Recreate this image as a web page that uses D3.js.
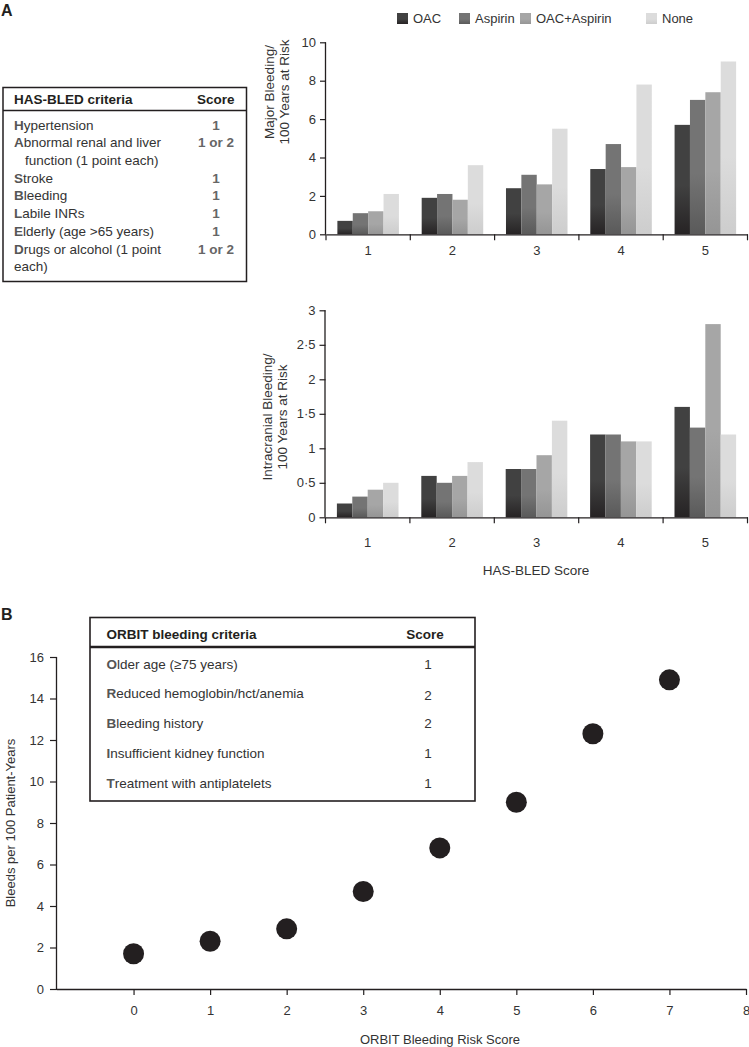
<!DOCTYPE html>
<html><head><meta charset="utf-8">
<script src="https://cdn.jsdelivr.net/npm/d3@7"></script>
<style>
html,body{margin:0;padding:0;background:#fff;}
svg{display:block;font-family:"Liberation Sans",Arial,Helvetica,sans-serif;}
</style></head>
<body><svg id="chart" width="749" height="1047"></svg>
<script>
// ---------- DATA ----------
const hasBledScores = ["1","2","3","4","5"];
const seriesNames = ["OAC","Aspirin","OAC+Aspirin","None"];
const majorOAC = [0.7,1.9,2.4,3.4,5.7];
const majorAspirin = [1.1,2.1,3.1,4.7,7.0];
const majorOACAspirin = [1.2,1.8,2.6,3.5,7.4];
const majorNone = [2.1,3.6,5.5,7.8,9.0];
const icbOAC = [0.2,0.6,0.7,1.2,1.6];
const icbAspirin = [0.3,0.5,0.7,1.2,1.3];
const icbOACAspirin = [0.4,0.6,0.9,1.1,2.8];
const icbNone = [0.5,0.8,1.4,1.1,1.2];
const majorTicks = [0,2,4,6,8,10];
const icbTicks = [0,0.5,1,1.5,2,2.5,3];
const hasBledCriteria = [
  ["Hypertension","1"],
  ["Abnormal renal and liver","1 or 2"],
  ["  function (1 point each)",""],
  ["Stroke","1"],
  ["Bleeding","1"],
  ["Labile INRs","1"],
  ["Elderly (age >65 years)","1"],
  ["Drugs or alcohol (1 point","1 or 2"],
  ["each)",""]
];
const orbitCriteria = [
  ["Older age (\u226575 years)","1"],
  ["Reduced hemoglobin/hct/anemia","2"],
  ["Bleeding history","2"],
  ["Insufficient kidney function","1"],
  ["Treatment with antiplatelets","1"]
];
const orbitScores = [0,1,2,3,4,5,6,7];
const orbitRates = [1.7,2.3,2.9,4.7,6.8,9.0,12.3,14.9];
const orbitXTicks = [0,1,2,3,4,5,6,7,8];
const orbitYTicks = [0,2,4,6,8,10,12,14,16];

// ---------- STYLE ----------
const svg = d3.select("#chart");
const ink = "#231f20";
const textCol = "#333";
const colTop = ["#414141","#747474","#a6a6a6","#dcdcdc"];
const colBot = ["#262324","#5a5a5a","#959595","#cdcdcd"];

const defs = svg.append("defs");
seriesNames.forEach((s,i)=>{
  const g = defs.append("linearGradient").attr("id","grad"+i)
    .attr("x1",0).attr("y1",0).attr("x2",0).attr("y2",1);
  g.append("stop").attr("offset","0%").attr("stop-color",colTop[i]);
  g.append("stop").attr("offset","55%").attr("stop-color",colTop[i]);
  g.append("stop").attr("offset","100%").attr("stop-color",colBot[i]);
});

// Panel letters
svg.append("text").attr("x",1).attr("y",16).attr("font-size",16).attr("font-weight","bold").attr("fill",ink).text("A");
svg.append("text").attr("x",1).attr("y",620).attr("font-size",16).attr("font-weight","bold").attr("fill",ink).text("B");

// Legend
const legendX = [397,459,520,646];
const lg = svg.append("g").attr("class","legend");
seriesNames.forEach((s,i)=>{
  lg.append("rect").attr("x",legendX[i]).attr("y",13).attr("width",11).attr("height",11).attr("fill",`url(#grad${i})`);
  lg.append("text").attr("x",legendX[i]+16).attr("y",23).attr("font-size",13).attr("fill",textCol).text(s);
});

// ---------- BAR CHART FUNCTION ----------
function barChart(opts){
  const {series, ticks, yDomain, yRange, xRange, fmt, labelOffset, titleLines, titleX, titleY, lineGap} = opts;
  const g = svg.append("g");
  const x0 = d3.scaleBand().domain(hasBledScores).range(xRange).padding(0);
  const bw = x0.bandwidth();
  const x1 = d3.scaleBand().domain(seriesNames).range([bw*0.135, bw*0.865]).padding(0);
  const y = d3.scaleLinear().domain(yDomain).range(yRange);
  const rows = hasBledScores.map((c,ci)=>({cat:c, vals: seriesNames.map((s,si)=>({s, si, v: series[si][ci]}))}));
  const grp = g.selectAll("g.cat").data(rows).join("g").attr("transform",d=>`translate(${x0(d.cat)},0)`);
  grp.selectAll("rect").data(d=>d.vals).join("rect")
    .attr("x",d=>x1(d.s)).attr("width",x1.bandwidth())
    .attr("y",d=>y(d.v)).attr("height",d=>y(0)-y(d.v))
    .attr("fill",d=>`url(#grad${d.si})`);
  // y axis
  const ya = g.append("g").attr("transform",`translate(${xRange[0]},0)`)
    .call(d3.axisLeft(y).tickValues(ticks).tickSize(6).tickPadding(4).tickFormat(fmt));
  ya.select(".domain").attr("stroke",ink).attr("stroke-width",1.3).attr("d",`M-0.5,${yRange[1]}V${yRange[0]}`);
  ya.selectAll(".tick line").attr("stroke",ink).attr("stroke-width",1.2);
  ya.selectAll(".tick text").attr("font-size",13).attr("fill",textCol).attr("font-family","Liberation Sans, Arial, sans-serif");
  // x axis: labels
  const xa = g.append("g").attr("transform",`translate(0,${yRange[0]})`)
    .call(d3.axisBottom(x0).tickSize(0).tickPadding(labelOffset));
  xa.select(".domain").attr("stroke",ink).attr("stroke-width",1.3);
  xa.selectAll(".tick text").attr("font-size",13).attr("fill",textCol).attr("font-family","Liberation Sans, Arial, sans-serif");
  // boundary ticks
  const bounds = hasBledScores.map(c=>x0(c)).concat([xRange[1]]);
  g.append("g").selectAll("line").data(bounds).join("line")
    .attr("x1",d=>d).attr("x2",d=>d).attr("y1",yRange[0]).attr("y2",yRange[0]+6)
    .attr("stroke",ink).attr("stroke-width",1.2);
  // title
  const t = g.append("text").attr("transform",`translate(${titleX},${titleY}) rotate(-90)`)
    .attr("text-anchor","middle").attr("font-size",13.5).attr("fill",textCol);
  titleLines.forEach((l,i)=>t.append("tspan").attr("x",0).attr("dy",i===0?0:lineGap).text(l));
  return {x0,y};
}

const dotFmt = d => String(d).replace(".","\u00B7");

barChart({
  series:[majorOAC,majorAspirin,majorOACAspirin,majorNone],
  ticks: majorTicks, yDomain:[0,10], yRange:[234.3,42.3], xRange:[326,747.5],
  fmt: d=>d, labelOffset: 11, titleLines:["Major Bleeding/","100 Years at Risk"],
  titleX: 274, titleY: 92, lineGap: 14.5
});
barChart({
  series:[icbOAC,icbAspirin,icbOACAspirin,icbNone],
  ticks: icbTicks, yDomain:[0,3], yRange:[517.3,310.3], xRange:[325.5,747.5],
  fmt: dotFmt, labelOffset: 20, titleLines:["Intracranial Bleeding/","100 Years at Risk"],
  titleX: 271.5, titleY: 417, lineGap: 15.5
});
svg.append("text").attr("x",536).attr("y",575).attr("text-anchor","middle").attr("font-size",13.5).attr("fill",textCol).text("HAS-BLED Score");

// ---------- HAS-BLED TABLE ----------
const hb = svg.append("g");
hb.append("rect").attr("x",3).attr("y",87.5).attr("width",243.5).attr("height",194).attr("fill","none").attr("stroke",ink).attr("stroke-width",1.5);
hb.append("line").attr("x1",3).attr("x2",246.5).attr("y1",110.5).attr("y2",110.5).attr("stroke",ink).attr("stroke-width",1.5);
hb.append("text").attr("x",14).attr("y",104).attr("font-size",13.5).attr("font-weight","bold").attr("fill",ink).text("HAS-BLED criteria");
hb.append("text").attr("x",234.5).attr("y",104).attr("text-anchor","end").attr("font-size",13.5).attr("font-weight","bold").attr("fill",ink).text("Score");
const hbRowY = d3.scaleLinear().domain([0,hasBledCriteria.length-1]).range([129.5,271.3]);
hasBledCriteria.forEach((r,i)=>{
  const txt = r[0];
  const indent = txt.startsWith("  ");
  const clean = txt.trim();
  const firstBold = !indent && clean !== "each)";
  const t = hb.append("text").attr("x",indent?25:14).attr("y",hbRowY(i)).attr("font-size",13.5).attr("fill",textCol);
  if(firstBold){
    t.append("tspan").attr("font-weight","bold").attr("fill","#555").text(clean[0]);
    t.append("tspan").text(clean.slice(1));
  } else t.text(clean);
  if(r[1]) hb.append("text").attr("x",216).attr("y",hbRowY(i)).attr("text-anchor","middle").attr("font-size",13.5).attr("font-weight","bold").attr("fill","#666").text(r[1]);
});

// ---------- SCATTER ----------
const sx = d3.scaleLinear().domain([-1,8]).range([57,746]);
const sy = d3.scaleLinear().domain([0,16]).range([989,657]);
const sg = svg.append("g");
const sxa = sg.append("g").attr("transform","translate(0,989)")
  .call(d3.axisBottom(sx).tickValues(orbitXTicks).tickSize(6).tickPadding(11));
sxa.select(".domain").attr("stroke",ink).attr("stroke-width",1.3).attr("d","M57,0.5H746.5");
sxa.selectAll(".tick line").attr("stroke",ink).attr("stroke-width",1.2);
sxa.selectAll(".tick text").attr("font-size",13).attr("fill",textCol).attr("font-family","Liberation Sans, Arial, sans-serif");
const sya = sg.append("g").attr("transform","translate(57,0)")
  .call(d3.axisLeft(sy).tickValues(orbitYTicks).tickSize(7).tickPadding(6));
sya.select(".domain").attr("stroke",ink).attr("stroke-width",1.3).attr("d","M-0.5,657V989");
sya.selectAll(".tick line").attr("stroke",ink).attr("stroke-width",1.2);
sya.selectAll(".tick text").attr("font-size",13).attr("fill",textCol).attr("font-family","Liberation Sans, Arial, sans-serif");
sg.selectAll("circle").data(orbitScores.map((s,i)=>({s,v:orbitRates[i]}))).join("circle")
  .attr("cx",d=>sx(d.s)).attr("cy",d=>sy(d.v)).attr("r",10.5).attr("fill",ink);
sg.append("text").attr("x",440).attr("y",1044).attr("text-anchor","middle").attr("font-size",13).attr("fill",textCol).text("ORBIT Bleeding Risk Score");
sg.append("text").attr("transform","translate(15,823) rotate(-90)").attr("text-anchor","middle").attr("font-size",13).attr("fill",textCol).text("Bleeds per 100 Patient-Years");

// ---------- ORBIT TABLE ----------
const ob = svg.append("g");
ob.append("rect").attr("x",90).attr("y",617.5).attr("width",385).attr("height",183.5).attr("fill","#fff").attr("stroke",ink).attr("stroke-width",1.6);
ob.append("line").attr("x1",90).attr("x2",475).attr("y1",647).attr("y2",647).attr("stroke",ink).attr("stroke-width",2.4);
ob.append("text").attr("x",106.5).attr("y",638.5).attr("font-size",13.5).attr("font-weight","bold").attr("fill",ink).text("ORBIT bleeding criteria");
ob.append("text").attr("x",425).attr("y",638.5).attr("text-anchor","middle").attr("font-size",13.5).attr("font-weight","bold").attr("fill",ink).text("Score");
const obRowY = d3.scaleLinear().domain([0,orbitCriteria.length-1]).range([668.5,787.5]);
orbitCriteria.forEach((r,i)=>{
  const t = ob.append("text").attr("x",106.5).attr("y",obRowY(i)).attr("font-size",13.5).attr("fill",textCol);
  t.append("tspan").attr("fill","#555").attr("font-weight","600").text(r[0][0]);
  t.append("tspan").text(r[0].slice(1));
  ob.append("text").attr("x",428).attr("y",obRowY(i)+(i===1?2:0)).attr("text-anchor","middle").attr("font-size",13.5).attr("fill",textCol).text(r[1]);
});
</script></body></html>
